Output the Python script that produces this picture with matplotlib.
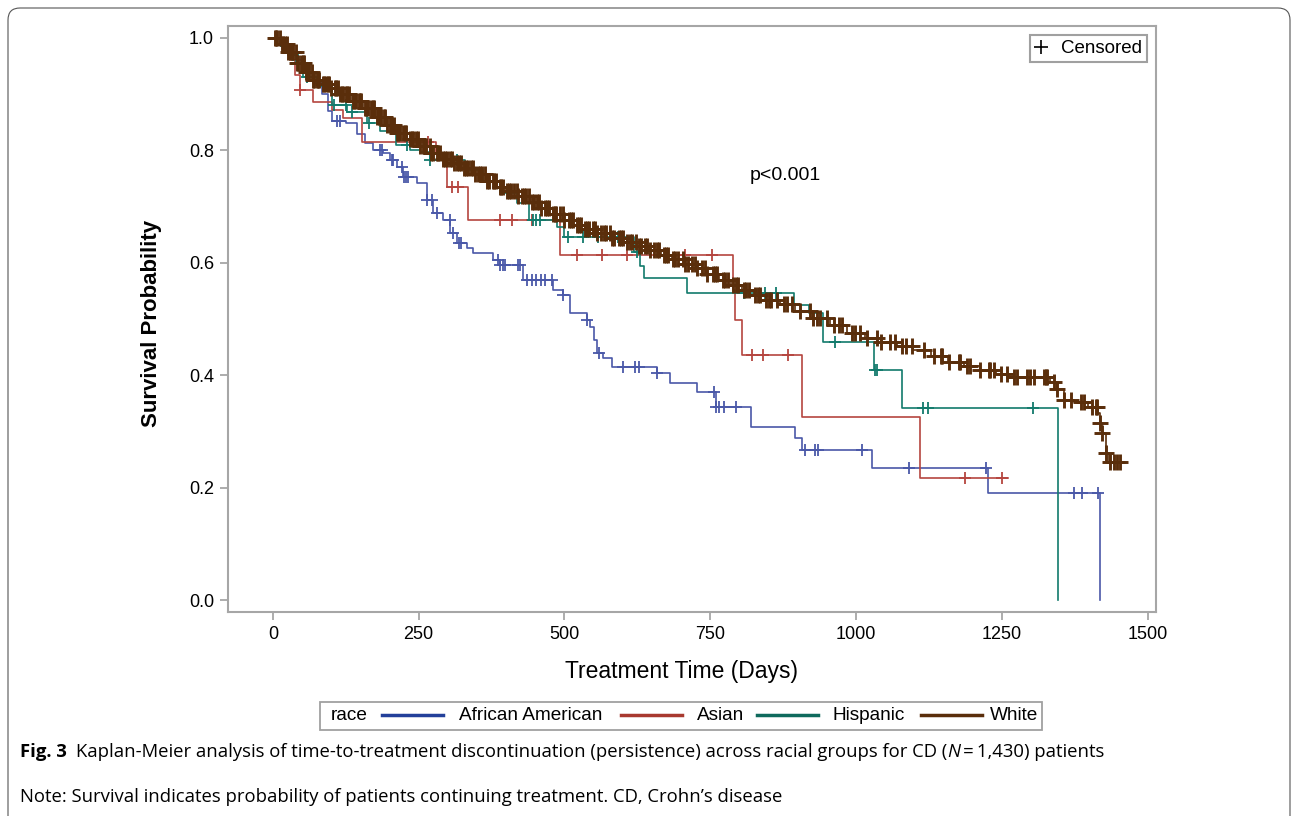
import numpy as np
import matplotlib
matplotlib.use("Agg")
import matplotlib.pyplot as plt
from matplotlib.lines import Line2D
from matplotlib.patches import Rectangle, FancyBboxPatch

# Kaplan-Meier steps: (time in days, survival after the drop)
groups = ["African American", "Asian", "Hispanic", "White"]

aa_t = [0, 12, 22, 35, 50, 69, 85, 95, 101, 125, 145, 158, 172, 189, 201, 213, 223, 247, 264, 275,
        292, 304, 315, 333, 343, 378, 390, 429, 481, 498, 510, 539, 544, 550, 556, 566, 582, 659,
        681, 728, 759, 819, 896, 908, 1028, 1227, 1418]
aa_s = [1.0, 0.99, 0.975, 0.96, 0.94, 0.92, 0.9, 0.87, 0.853, 0.849, 0.83, 0.813, 0.8, 0.795, 0.783,
        0.77, 0.753, 0.742, 0.712, 0.689, 0.676, 0.653, 0.635, 0.626, 0.617, 0.605, 0.596, 0.569,
        0.552, 0.543, 0.511, 0.498, 0.486, 0.463, 0.44, 0.431, 0.415, 0.404, 0.386, 0.37, 0.343,
        0.308, 0.288, 0.267, 0.235, 0.19, 0.0]
aa_cens = [110, 115, 184, 187, 204, 206, 221, 225, 228, 232, 264, 273, 281, 303, 309, 320, 322, 386,
           390, 394, 398, 420, 424, 436, 444, 452, 460, 467, 478, 498, 539, 560, 600, 621, 627, 659,
           757, 759, 765, 774, 794, 912, 930, 935, 1010, 1090, 1222, 1373, 1388, 1415]

as_t = [0, 14, 29, 38, 46, 69, 101, 120, 153, 280, 292, 298, 335, 492, 789, 793, 805, 908, 1110, 1260]
as_s = [1.0, 0.985, 0.96, 0.934, 0.907, 0.886, 0.872, 0.858, 0.815, 0.795, 0.774, 0.735, 0.676,
        0.614, 0.552, 0.498, 0.436, 0.326, 0.218, 0.218]
as_cens = [46, 247, 266, 307, 318, 390, 410, 444, 522, 565, 607, 707, 753, 822, 841, 884, 1187, 1251]

hi_t = [0, 15, 28, 40, 51, 75, 101, 127, 161, 184, 212, 235, 252, 270, 330, 360, 390, 419, 440, 487,
        500, 620, 630, 636, 710, 893, 920, 944, 1030, 1079, 1347]
hi_s = [1.0, 0.985, 0.97, 0.955, 0.93, 0.915, 0.88, 0.868, 0.849, 0.835, 0.81, 0.8, 0.797, 0.783,
        0.765, 0.745, 0.725, 0.706, 0.676, 0.664, 0.646, 0.62, 0.594, 0.573, 0.546, 0.525, 0.51,
        0.46, 0.409, 0.342, 0.0]
hi_cens = [22, 35, 58, 105, 125, 136, 165, 230, 270, 316, 446, 452, 458, 506, 532, 558, 592, 625,
           807, 844, 862, 964, 1033, 1036, 1115, 1124, 1304]

wh_t = [0, 15, 25, 41, 55, 69, 85, 98, 115, 135, 155, 175, 195, 212, 230, 250, 270, 290, 310, 327,
        345, 365, 384, 400, 420, 441, 460, 480, 498, 515, 535, 556, 580, 607, 625, 645, 665, 685,
        705, 725, 745, 765, 785, 805, 825, 845, 870, 895, 927, 955, 985, 1015, 1042, 1070, 1098,
        1128, 1157, 1185, 1213, 1240, 1270, 1333, 1345, 1356, 1373, 1397, 1414, 1419, 1422, 1428,
        1433, 1459]
wh_s = [1.0, 0.99, 0.975, 0.955, 0.94, 0.925, 0.918, 0.911, 0.9, 0.888, 0.875, 0.86, 0.845, 0.831,
        0.82, 0.808, 0.795, 0.785, 0.777, 0.769, 0.758, 0.746, 0.735, 0.727, 0.718, 0.708, 0.698,
        0.687, 0.676, 0.668, 0.661, 0.653, 0.645, 0.637, 0.63, 0.622, 0.614, 0.606, 0.598, 0.59,
        0.58, 0.57, 0.56, 0.552, 0.542, 0.534, 0.526, 0.515, 0.502, 0.49, 0.475, 0.466, 0.459,
        0.452, 0.445, 0.434, 0.423, 0.416, 0.409, 0.403, 0.397, 0.388, 0.375, 0.356, 0.352, 0.343,
        0.333, 0.315, 0.297, 0.262, 0.246, 0.246]
wh_cens = [3, 6, 8, 12, 15, 17, 21, 24, 26, 30, 33, 35, 39, 42, 44, 48, 51, 53, 57, 60, 62, 67, 69,
           71, 76, 78, 80, 86, 88, 91, 95, 97, 100, 106, 108, 111, 116, 118, 120, 126, 128, 131,
           137, 139, 142, 147, 150, 152, 158, 160, 163, 168, 171, 174, 179, 182, 185, 190, 193, 196,
           201, 204, 207, 213, 215, 218, 224, 226, 229, 235, 238, 241, 246, 249, 252, 258, 260, 263,
           269, 272, 275, 281, 284, 287, 292, 295, 298, 304, 307, 310, 316, 319, 322, 328, 331, 334,
           340, 343, 346, 352, 355, 358, 364, 367, 370, 377, 380, 383, 389, 392, 395, 402, 405, 408,
           414, 418, 421, 427, 430, 434, 440, 444, 447, 453, 457, 460, 466, 470, 473, 480, 483, 486,
           493, 497, 500, 507, 511, 514, 521, 525, 528, 535, 538, 542, 549, 552, 556, 563, 567, 571,
           578, 582, 585, 593, 597, 600, 608, 612, 615, 623, 627, 631, 638, 642, 646, 654, 658, 662,
           670, 674, 678, 686, 690, 694, 703, 707, 711, 719, 724, 728, 736, 741, 745, 754, 758, 762,
           771, 776, 780, 789, 794, 798, 807, 812, 816, 826, 831, 835, 845, 850, 855, 865, 876, 881,
           890, 904, 921, 927, 933, 939, 950, 962, 970, 976, 993, 999, 1007, 1019, 1036, 1042, 1059,
           1067, 1079, 1085, 1096, 1116, 1133, 1145, 1147, 1159, 1176, 1179, 1190, 1196, 1213, 1228,
           1230, 1236, 1248, 1259, 1270, 1276, 1293, 1299, 1305, 1322, 1325, 1328, 1339, 1345, 1356,
           1368, 1385, 1391, 1405, 1411, 1413, 1419, 1422, 1428, 1436, 1442, 1448, 1453]

curve_colors = ["#4a58a8", "#b5453f", "#127a6c", "#5a2e0b"]
legend_colors = ["#23409a", "#a8392f", "#0f6a5d", "#5a2e0b"]
marker_sizes = [9, 9, 9, 12]
marker_widths = [1.3, 1.3, 1.3, 2.1]

plt.rcParams["font.family"] = ["Liberation Sans", "DejaVu Sans"]

fig = plt.figure(figsize=(12.95, 8.16), dpi=100)
ax = fig.add_axes([0.176, 0.25, 0.717, 0.718])

def surv_at(times, surv, t):
    idx = np.searchsorted(times, t, side="right") - 1
    return np.asarray(surv)[idx]

series = [(aa_t, aa_s, aa_cens), (as_t, as_s, as_cens), (hi_t, hi_s, hi_cens), (wh_t, wh_s, wh_cens)]
for (t, s, c), col, ms, mw in zip(series, curve_colors, marker_sizes, marker_widths):
    ax.step(t, s, where="post", color=col, lw=1.2)
    ax.plot(c, surv_at(t, s, c), ls="none", marker="+", ms=ms, mew=mw, color=col)

ax.set_xlim(-77, 1515)
ax.set_ylim(-0.021, 1.021)
ax.set_xticks([0, 250, 500, 750, 1000, 1250, 1500])
ax.set_yticks([0.0, 0.2, 0.4, 0.6, 0.8, 1.0])
ax.set_yticklabels(["0.0", "0.2", "0.4", "0.6", "0.8", "1.0"])
ax.tick_params(labelsize=13, length=6, width=1.3, color="#a6a6a6", pad=4)
for sp in ax.spines.values():
    sp.set_color("#a6a6a6")
    sp.set_linewidth(1.5)
ax.set_xlabel("Treatment Time (Days)", fontsize=16.5)
ax.xaxis.set_label_coords((681 - 228) / 928, -(672 - 612) / 586)
ax.xaxis.label.set_va("center")
ax.set_ylabel("Survival Probability", fontsize=16, fontweight="bold")
ax.yaxis.set_label_coords(-(228 - 152) / 928, (612 - 323) / 586)
ax.yaxis.label.set_va("center")
ax.text(879, 0.756, "p<0.001", fontsize=14, ha="center", va="center")

cens_handle = Line2D([], [], ls="none", marker="+", color="black", ms=10, mew=1.2)
ax.legend([cens_handle], ["Censored"], loc="upper right", fontsize=13.5, frameon=True, fancybox=False,
          edgecolor="#a0a0a0", handlelength=0.6, handletextpad=0.8, borderpad=0.25,
          borderaxespad=0.5, framealpha=1).get_frame().set_linewidth(1.5)

# bottom legend box
fig.add_artist(Rectangle((320 / 1295, 1 - 730 / 816), 722 / 1295, 28 / 816, transform=fig.transFigure,
                         fill=False, edgecolor="#a0a0a0", lw=1.3))
ly = 1 - 715 / 816
fig.text(331 / 1295, ly, "race", fontsize=13.7, va="center")
line_x = [382, 621, 757, 921]
text_x = [459, 697, 832, 990]
for lx, tx, col, name in zip(line_x, text_x, legend_colors, groups):
    fig.add_artist(Line2D([lx / 1295, (lx + 61) / 1295], [ly, ly], transform=fig.transFigure,
                          color=col, lw=2.5))
    fig.text(tx / 1295, ly, name, fontsize=13.7, va="center")

# caption
cap_font = ["Liberation Sans Narrow", "Open Sans", "DejaVu Sans"]
fig.canvas.draw()
renderer = fig.canvas.get_renderer()
pieces = [("Fig. 3", "bold", "normal", 20),
          ("Kaplan-Meier analysis of time-to-treatment discontinuation (persistence) across racial groups for CD (",
           "normal", "normal", 9),
          ("N", "normal", "italic", 0),
          ("\u2009=\u20091,430) patients", "normal", "normal", 0)]
x = 0
cy = 1 - 752 / 816
for txt, w, st, gap in pieces:
    x += gap
    t = fig.text(x / 1295, cy, txt, fontsize=13.3, fontweight=w, fontstyle=st, va="center",
                 family=cap_font)
    bb = t.get_window_extent(renderer)
    x = bb.x1
fig.text(20 / 1295, 1 - 797 / 816, "Note: Survival indicates probability of patients continuing treatment. CD, Crohn\u2019s disease",
         fontsize=13.3, va="center", family=cap_font)

fig.add_artist(FancyBboxPatch((0.08, -0.5), 12.82, 8.58, boxstyle="round,pad=0,rounding_size=0.12",
                              transform=fig.dpi_scale_trans, fill=False, edgecolor="#555555", lw=0.8))

fig.savefig("out.png", dpi=100)
